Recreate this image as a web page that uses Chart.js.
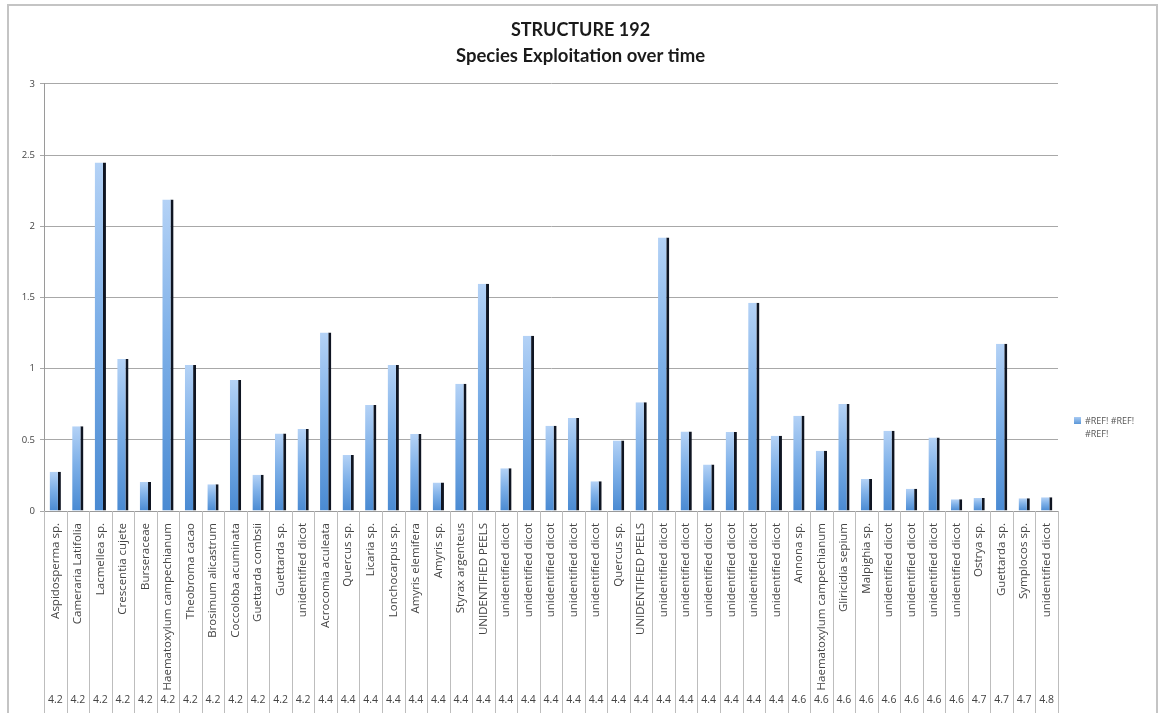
<!DOCTYPE html>
<html>
<head>
<meta charset="utf-8">
<title>STRUCTURE 192</title>
<script src="https://cdn.jsdelivr.net/npm/chart.js@4.4.1/dist/chart.umd.min.js"></script>
<style>
  html, body { margin: 0; padding: 0; background: #fff; }
  canvas { display: block; }
</style>
</head>
<body>
<canvas id="speciesChart" width="1161" height="713"></canvas>
<script>
// Species (first category level)
const species = [
    'Aspidosperma sp.', 'Cameraria Latifolia', 'Lacmellea sp.', 'Crescentia cujete', 'Burseraceae',
    'Haematoxylum campechianum', 'Theobroma cacao', 'Brosimum alicastrum', 'Coccoloba acuminata',
    'Guettarda combsii', 'Guettarda sp.', 'unidentified dicot', 'Acrocomia aculeata', 'Quercus sp.',
    'Licaria sp.', 'Lonchocarpus sp.', 'Amyris elemifera', 'Amyris sp.', 'Styrax argenteus',
    'UNIDENTIFIED PEELS', 'unidentified dicot', 'unidentified dicot', 'unidentified dicot',
    'unidentified dicot', 'unidentified dicot', 'Quercus sp.', 'UNIDENTIFIED PEELS',
    'unidentified dicot', 'unidentified dicot', 'unidentified dicot', 'unidentified dicot',
    'unidentified dicot', 'unidentified dicot', 'Annona sp.', 'Haematoxylum campechianum',
    'Gliricidia sepium', 'Malpighia sp.', 'unidentified dicot', 'unidentified dicot',
    'unidentified dicot', 'unidentified dicot', 'Ostrya sp.', 'Guettarda sp.', 'Symplocos sp.',
    'unidentified dicot'
];

// Level / period (second category level)
const periods = [
    '4.2', '4.2', '4.2', '4.2', '4.2', '4.2', '4.2', '4.2', '4.2', '4.2', '4.2', '4.2',
    '4.4', '4.4', '4.4', '4.4', '4.4', '4.4', '4.4', '4.4', '4.4', '4.4', '4.4', '4.4',
    '4.4', '4.4', '4.4', '4.4', '4.4', '4.4', '4.4', '4.4', '4.4',
    '4.6', '4.6', '4.6', '4.6', '4.6', '4.6', '4.6', '4.6',
    '4.7', '4.7', '4.7', '4.8'
];

const values = [
    0.275, 0.596, 2.448, 1.068, 0.204, 2.188, 1.026, 0.188, 0.92, 0.254, 0.545, 0.575,
    1.254, 0.394, 0.744, 1.026, 0.54, 0.2, 0.894, 1.596, 0.30, 1.23, 0.599, 0.653,
    0.209, 0.495, 0.763, 1.92, 0.559, 0.326, 0.554, 1.462, 0.528, 0.669, 0.423,
    0.751, 0.225, 0.563, 0.157, 0.516, 0.082, 0.092, 1.174, 0.089, 0.096
];

const seriesLabel = '#REF! #REF! #REF!';
const yTicks = [0, 0.5, 1, 1.5, 2, 2.5, 3];

const labelFont = "'Open Sans', 'Liberation Sans', sans-serif";
const titleFont = "Lato, 'Open Sans', sans-serif";

// vertical gradient for each bar, light at the top
function barGradient(context) {
    const chart = context.chart;
    if (!chart.chartArea) return '#6fa3e0';
    const y = chart.scales.y;
    const top = y.getPixelForValue(context.raw);
    const bottom = y.getPixelForValue(0);
    const g = chart.ctx.createLinearGradient(0, top, 0, bottom);
    g.addColorStop(0, '#b4d2f6');
    g.addColorStop(0.45, '#7eb0e8');
    g.addColorStop(1, '#4a8ad2');
    return g;
}

// outer frame, category separators, second level labels and legend
const decorations = {
    id: 'decorations',
    beforeDraw(chart) {
        const ctx = chart.ctx;
        ctx.save();
        ctx.fillStyle = '#fff';
        ctx.fillRect(0, 0, chart.width, chart.height);
        ctx.strokeStyle = '#c4c4c4';
        ctx.lineWidth = 2;
        ctx.strokeRect(8, 5, chart.width - 12, chart.height + 20);
        ctx.restore();
    },
    afterDraw(chart) {
        const ctx = chart.ctx;
        const x = chart.scales.x;
        const area = chart.chartArea;
        const half = (x.getPixelForValue(1) - x.getPixelForValue(0)) / 2;
        ctx.save();
        ctx.strokeStyle = '#bdbdbd';
        ctx.lineWidth = 1;
        for (let i = 0; i <= species.length; i++) {
            const px = Math.round(x.getPixelForValue(0) - half + i * half * 2) + 0.5;
            ctx.beginPath();
            ctx.moveTo(px, area.bottom);
            ctx.lineTo(px, chart.height);
            ctx.stroke();
        }
        ctx.fillStyle = '#444';
        ctx.font = '10.5px ' + labelFont;
        ctx.textAlign = 'center';
        ctx.textBaseline = 'middle';
        periods.forEach((p, i) => {
            ctx.fillText(p, x.getPixelForValue(i), chart.height - 13);
        });

        // legend
        const lx = area.right + 16;
        const ly = 417;
        const box = ctx.createLinearGradient(0, ly, 0, ly + 7);
        box.addColorStop(0, '#a9cbf3');
        box.addColorStop(1, '#5b97d8');
        ctx.fillStyle = box;
        ctx.fillRect(lx, ly, 7, 7);
        ctx.fillStyle = '#555';
        ctx.font = '9px ' + labelFont;
        ctx.textAlign = 'left';
        const words = chart.data.datasets[0].label.split(' ');
        const lines = [];
        let line = '';
        words.forEach((w) => {
            const test = line ? line + ' ' + w : w;
            if (ctx.measureText(test).width > 62 && line) {
                lines.push(line);
                line = w;
            } else {
                line = test;
            }
        });
        lines.push(line);
        lines.forEach((l, i) => ctx.fillText(l, lx + 11, ly + 4 + i * 13));
        ctx.restore();
    }
};

new Chart(document.getElementById('speciesChart'), {
    type: 'bar',
    data: {
        labels: species,
        datasets: [
            {
                label: seriesLabel,
                data: values,
                backgroundColor: barGradient,
                borderColor: '#0f1522',
                borderWidth: { top: 0, left: 0, bottom: 0, right: 3 },
                borderSkipped: false,
                barPercentage: 0.5,
                categoryPercentage: 1,
            },
        ],
    },
    options: {
        responsive: false,
        animation: false,
        devicePixelRatio: 1,
        layout: { padding: 0 },
        plugins: {
            legend: { display: false },
            tooltip: { enabled: false },
            title: {
                display: true,
                text: 'STRUCTURE 192',
                color: '#1a1a1a',
                font: { family: titleFont, size: 18, weight: 'bold' },
                padding: { top: 19, bottom: 4 },
            },
            subtitle: {
                display: true,
                text: 'Species Exploitation over time',
                color: '#1a1a1a',
                font: { family: titleFont, size: 18.5, weight: 'bold' },
                padding: { top: 0, bottom: 17 },
            },
        },
        scales: {
            x: {
                grid: { display: true, drawOnChartArea: false, drawTicks: false },
                border: { display: true, color: '#9a9a9a' },
                ticks: {
                    autoSkip: false,
                    minRotation: 90,
                    maxRotation: 90,
                    padding: 12,
                    color: '#444',
                    font: { family: labelFont, size: 11.5 },
                },
                afterFit(scale) { scale.height = 202; },
            },
            y: {
                min: 0,
                max: 3,
                afterBuildTicks(scale) { scale.ticks = yTicks.map((v) => ({ value: v })); },
                grid: { color: '#a8a8a8', tickLength: 4 },
                border: { display: true, color: '#9a9a9a' },
                ticks: {
                    padding: 5,
                    color: '#444',
                    font: { family: labelFont, size: 9.5 },
                    callback: (v) => String(v),
                },
                afterFit(scale) { scale.width = 44; },
            },
            // empty right-hand gutter that holds the legend
            legendGutter: {
                type: 'linear',
                position: 'right',
                display: true,
                grid: { display: false, drawTicks: false },
                border: { display: false },
                ticks: { display: false },
                afterFit(scale) { scale.width = 103; },
            },
        },
    },
    plugins: [decorations],
});
</script>
</body>
</html>
